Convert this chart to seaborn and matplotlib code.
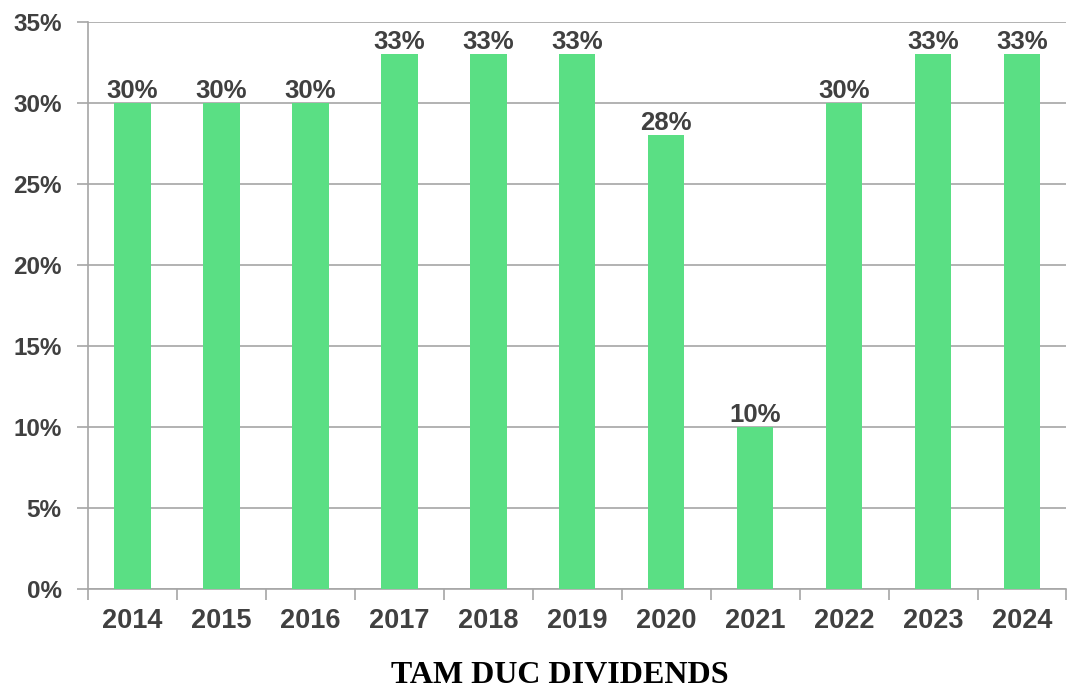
import matplotlib
matplotlib.use("Agg")
import matplotlib.pyplot as plt
import seaborn as sns
import pandas as pd
import numpy as np

years = ["2014", "2015", "2016", "2017", "2018", "2019", "2020", "2021", "2022", "2023", "2024"]
dividends = [30, 30, 30, 33, 33, 33, 28, 10, 30, 33, 33]
yticks = [0, 5, 10, 15, 20, 25, 30, 35]
title = "TAM DUC DIVIDENDS"

sns.set_theme(style="white")
plt.rcParams['font.family'] = ['Liberation Sans', 'DejaVu Sans']

df = pd.DataFrame({"year": years, "value": dividends})

fig = plt.figure(figsize=(10.67, 6.9), dpi=100)
ax = fig.add_axes([0.0825, 0.1464, 0.917, 0.8217])

sns.barplot(data=df, x="year", y="value", color="#5ADF84", width=0.41,
            saturation=1, linewidth=0, edgecolor="none", ax=ax, zorder=3)

txt = "#404040"
grid = "#A6A6A6"
ax.set_ylim(0, 35)
ax.set_xlim(-0.5, len(years) - 0.5)
ax.set_yticks(yticks)
ax.set_yticklabels([f"{v}%" for v in yticks], fontsize=17.5, fontweight="bold", color=txt)
ax.yaxis.grid(True, color=grid, linewidth=1.2, zorder=0)
ax.set_axisbelow(True)
ax.tick_params(axis="y", length=8, width=1.2, color=grid, left=True, pad=11)

ax.set_xticks(range(len(years)))
ax.set_xticklabels(years, fontsize=19.5, fontweight="bold", color=txt)
ax.tick_params(axis="x", which="major", length=0, pad=14)
ax.set_xticks(np.arange(-0.5, len(years)), minor=True)
ax.tick_params(axis="x", which="minor", length=8, width=1.2, color=grid, bottom=True)

for s in ["top", "right"]:
    ax.spines[s].set_visible(False)
for s in ["left", "bottom"]:
    ax.spines[s].set_color(grid)
    ax.spines[s].set_linewidth(1.2)

ax.set_xlabel("")
ax.set_ylabel("")

for c in ax.containers:
    ax.bar_label(c, labels=[f"{v:g}%" for v in dividends], padding=0,
                 fontsize=18.5, fontweight="bold", color=txt)

fig.text(0.525, 0.01, title, ha="center", va="baseline",
         fontfamily="Liberation Serif", fontweight="bold", fontsize=23, color="black")

fig.savefig("out.png", dpi=100)
